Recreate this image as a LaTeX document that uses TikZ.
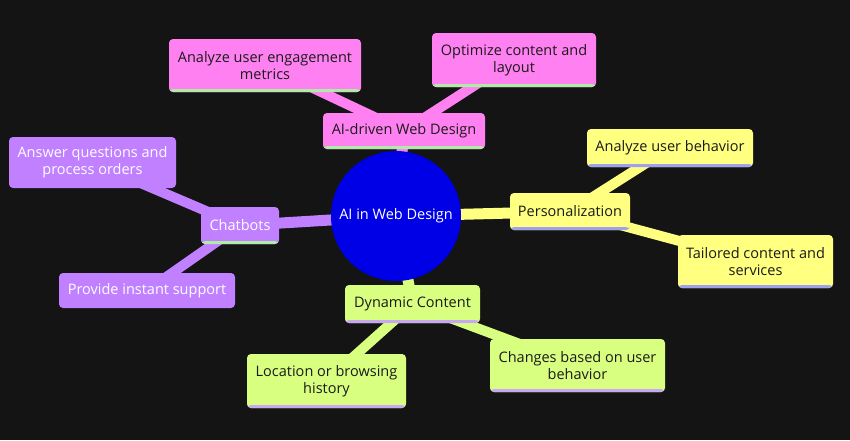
\documentclass[tikz,border=0pt]{standalone}
\usepackage{fontspec}
\setmainfont{Open Sans}

\pgfdeclarelayer{back}
\pgfdeclarelayer{edges}
\pgfsetlayers{back,edges,main}

\definecolor{bgdark}{HTML}{141414}
\definecolor{rootblue}{HTML}{0000E6}
\definecolor{pinkbox}{HTML}{FF80F0}
\definecolor{purplebox}{HTML}{C080FF}
\definecolor{yellowbox}{HTML}{FFFF80}
\definecolor{greenbox}{HTML}{D9FF80}
\definecolor{mintline}{HTML}{B0EBA8}
\definecolor{lavline}{HTML}{A0A0F0}
\definecolor{lilacline}{HTML}{C8A8F0}
\definecolor{darktext}{HTML}{1A1A1A}

\tikzset{
  box/.style={rounded corners=4pt, inner sep=0pt, align=center,
    font=\fontsize{14.5}{17}\selectfont},
  strip/.style={path picture={\fill[#1] (path picture bounding box.south west)
    rectangle ([yshift=3pt]path picture bounding box.south east);}},
  aibox/.style={box, fill=pinkbox, text=darktext, strip=mintline},
  chatbox/.style={box, fill=purplebox, text=white},
  persbox/.style={box, fill=yellowbox, text=darktext, strip=lavline},
  dynbox/.style={box, fill=greenbox, text=darktext, strip=lilacline},
  edge/.style={line width=#1, line cap=butt},
}

\begin{document}
\begin{tikzpicture}[x=1pt, y=-1pt]
  \begin{pgfonlayer}{back}
    \fill[bgdark] (0,0) rectangle (850,440);
  \end{pgfonlayer}
  \useasboundingbox (0,0) rectangle (850,440);

  \node[circle, fill=rootblue, text=white, minimum size=130pt, inner sep=0pt,
    font=\fontsize{14.5}{17}\selectfont] (root) at (396,216) {AI in Web Design};

  \node[aibox, minimum width=162pt, minimum height=36pt] (aidriven) at (404,131) {AI-driven Web Design};
  \node[aibox, minimum width=192pt, minimum height=53pt] (engage) at (265,65.5) {Analyze user engagement\\metrics};
  \node[aibox, minimum width=164pt, minimum height=54pt] (optimize) at (514,60) {Optimize content and\\layout};

  \node[chatbox, strip=mintline, minimum width=78pt, minimum height=37pt] (chatbots) at (240,225.5) {Chatbots};
  \node[chatbox, minimum width=167pt, minimum height=51pt] (answer) at (92.5,162.5) {Answer questions and\\process orders};
  \node[chatbox, minimum width=176pt, minimum height=35pt] (provide) at (147,290.5) {Provide instant support};

  \node[persbox, minimum width=120pt, minimum height=37pt] (personal) at (570,211.5) {Personalization};
  \node[persbox, minimum width=166pt, minimum height=38pt] (behavior) at (670,148) {Analyze user behavior};
  \node[persbox, minimum width=155pt, minimum height=53pt] (tailored) at (755.5,261.5) {Tailored content and\\services};

  \node[dynbox, minimum width=135pt, minimum height=38pt] (dynamic) at (412.5,304) {Dynamic Content};
  \node[dynbox, minimum width=159pt, minimum height=54pt] (location) at (326.5,381) {Location or browsing\\history};
  \node[dynbox, minimum width=175pt, minimum height=53pt] (changes) at (577.5,365.5) {Changes based on user\\behavior};

  \begin{pgfonlayer}{edges}
    \draw[edge=11pt, pinkbox] (root.center) -- (aidriven.center);
    \draw[edge=10pt, pinkbox] (aidriven.center) -- (engage.center);
    \draw[edge=10pt, pinkbox] (aidriven.center) -- (optimize.center);
    \draw[edge=11pt, purplebox] (root.center) -- (chatbots.center);
    \draw[edge=10pt, purplebox] (chatbots.center) -- (answer.center);
    \draw[edge=10pt, purplebox] (chatbots.center) -- (provide.center);
    \draw[edge=11pt, yellowbox] (root.center) -- (personal.center);
    \draw[edge=10pt, yellowbox] (personal.center) -- (behavior.center);
    \draw[edge=10pt, yellowbox] (personal.center) -- (tailored.center);
    \draw[edge=11pt, greenbox] (root.center) -- (dynamic.center);
    \draw[edge=10pt, greenbox] (dynamic.center) -- (location.center);
    \draw[edge=10pt, greenbox] (dynamic.center) -- (changes.center);
  \end{pgfonlayer}
\end{tikzpicture}
\end{document}
